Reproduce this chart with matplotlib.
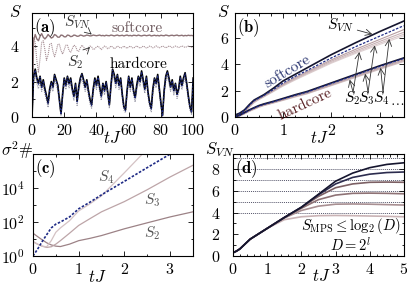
import numpy as np
import matplotlib
matplotlib.use('Agg')
import matplotlib.pyplot as plt
from matplotlib.ticker import MultipleLocator, FixedLocator, NullFormatter

plt.rcParams['font.family'] = 'serif'
plt.rcParams['font.serif'] = ['cmr10']
plt.rcParams['mathtext.fontset'] = 'cm'
plt.rcParams['axes.formatter.use_mathtext'] = True
plt.rcParams['font.size'] = 11.5
plt.rcParams['axes.linewidth'] = 0.8

# ---------------- datos (a) ----------------
t_a = np.arange(0, 101)
hard_svn = [0.0, 2.3, 2.7, 2.2, 1.9, 2.3, 1.7, 2.1, 1.6, 1.2,
            0.8, 1.6, 2.0, 1.7, 2.4, 2.1, 1.8, 1.0, 0.2, 1.3,
            2.2, 1.8, 2.3, 1.9, 2.2, 1.6, 1.2, 1.9, 0.9, 1.7,
            2.2, 2.45, 2.1, 1.7, 2.1, 1.5, 1.0, 0.7, 1.6, 2.2,
            1.8, 2.3, 1.7, 1.2, 1.9, 1.5, 2.0, 1.4, 0.7, 1.8,
            2.7, 2.4, 1.9, 2.4, 1.8, 2.2, 1.3, 0.6, 0.4, 1.5,
            2.3, 1.7, 2.2, 1.5, 1.1, 1.8, 2.3, 2.0, 2.6, 2.1,
            1.6, 2.3, 1.4, 0.8, 0.5, 1.6, 2.2, 1.9, 2.4, 1.6,
            0.8, 0.1, 1.5, 2.3, 2.6, 2.2, 1.7, 2.1, 1.5, 1.9,
            1.3, 1.6, 2.3, 1.8, 2.2, 2.5, 1.9, 1.2, 0.6, 0.3, 2.2]
hard_dash = [0.0, 2.25, 2.65, 2.15, 1.85, 2.25, 1.65, 2.05, 1.55, 1.15,
             0.75, 1.55, 1.95, 1.65, 2.35, 2.05, 1.75, 0.95, 0.15, 1.25,
             2.15, 1.75, 2.25, 1.85, 2.15, 1.55, 1.15, 1.85, 0.85, 1.65,
             2.15, 2.4, 2.05, 1.65, 2.05, 1.45, 0.95, 0.65, 1.55, 2.15,
             1.75, 2.25, 1.65, 1.15, 1.85, 1.45, 1.95, 1.35, 0.65, 1.75,
             2.65, 2.35, 1.85, 2.35, 1.75, 2.15, 1.25, 0.55, 0.35, 1.45,
             2.25, 1.65, 2.15, 1.45, 1.05, 1.75, 2.25, 1.95, 2.55, 2.05,
             1.55, 2.25, 1.35, 0.75, 0.45, 1.55, 2.15, 1.85, 2.35, 1.55,
             0.75, 0.05, 1.45, 2.25, 2.55, 2.15, 1.65, 2.05, 1.45, 1.85,
             1.25, 1.55, 2.25, 1.75, 2.15, 2.45, 1.85, 1.15, 0.55, 0.25, 2.15]
hard_s2 = [0.0, 2.0, 2.4, 1.9, 1.6, 2.0, 1.45, 1.8, 1.3, 0.95,
           0.55, 1.3, 1.7, 1.45, 2.1, 1.8, 1.5, 0.75, 0.1, 1.05,
           1.9, 1.55, 2.0, 1.65, 1.9, 1.35, 0.95, 1.6, 0.65, 1.45,
           1.9, 2.15, 1.8, 1.45, 1.8, 1.25, 0.75, 0.5, 1.35, 1.9,
           1.55, 2.0, 1.45, 0.95, 1.6, 1.25, 1.7, 1.15, 0.5, 1.5,
           2.4, 2.1, 1.65, 2.1, 1.55, 1.9, 1.05, 0.4, 0.25, 1.25,
           2.0, 1.45, 1.9, 1.25, 0.85, 1.5, 2.0, 1.75, 2.3, 1.8,
           1.35, 2.0, 1.15, 0.6, 0.3, 1.35, 1.9, 1.65, 2.1, 1.35,
           0.6, 0.05, 1.25, 2.0, 2.3, 1.9, 1.45, 1.8, 1.25, 1.65,
           1.05, 1.35, 2.0, 1.55, 1.9, 2.2, 1.65, 0.95, 0.4, 0.15, 1.9]
soft_svn = [0.0, 4.3, 4.65, 4.4, 4.3, 4.55, 4.7, 4.5, 4.4, 4.5,
            4.65, 4.55, 4.45, 4.5, 4.65, 4.6, 4.5, 4.5, 4.62, 4.6,
            4.52, 4.52, 4.62, 4.6, 4.53, 4.55, 4.62, 4.6, 4.55, 4.56,
            4.62, 4.6, 4.56, 4.58, 4.62, 4.6, 4.57, 4.58, 4.62, 4.6,
            4.58, 4.6, 4.62, 4.58, 4.6, 4.57, 4.61, 4.59, 4.58, 4.62,
            4.6, 4.57, 4.6, 4.62, 4.58, 4.59, 4.61, 4.57, 4.6, 4.62,
            4.58, 4.6, 4.57, 4.61, 4.6, 4.58, 4.62, 4.59, 4.57, 4.6,
            4.61, 4.58, 4.6, 4.62, 4.57, 4.59, 4.61, 4.58, 4.6, 4.57,
            4.61, 4.59, 4.58, 4.62, 4.6, 4.57, 4.6, 4.61, 4.58, 4.6,
            4.62, 4.58, 4.59, 4.61, 4.57, 4.6, 4.58, 4.61, 4.59, 4.6, 4.58]
soft_s2 = [0.0, 4.5, 4.2, 3.2, 2.5, 3.3, 4.2, 4.3, 3.8, 3.2,
           3.5, 4.1, 4.15, 3.7, 3.4, 3.7, 4.1, 4.1, 3.75, 3.55,
           3.8, 4.05, 4.05, 3.75, 3.65, 3.85, 4.05, 4.0, 3.75, 3.7,
           3.9, 4.05, 3.95, 3.8, 3.75, 3.9, 4.0, 3.95, 3.8, 3.85,
           3.95, 4.0, 3.9, 3.8, 3.9, 4.0, 3.95, 3.85, 3.9, 4.0,
           3.95, 3.85, 3.9, 4.0, 3.95, 3.88, 3.92, 4.0, 3.93, 3.87,
           3.95, 4.0, 3.92, 3.88, 3.95, 4.01, 3.94, 3.88, 3.93, 4.0,
           3.95, 3.89, 3.93, 4.0, 3.96, 3.9, 3.94, 4.01, 3.95, 3.9,
           3.95, 4.0, 3.96, 3.9, 3.94, 4.01, 3.97, 3.91, 3.95, 4.0,
           3.96, 3.92, 3.95, 4.01, 3.97, 3.92, 3.96, 4.0, 3.97, 3.93, 3.98]

# ---------------- datos (b) ----------------
t_b = [0, 0.1, 0.2, 0.3, 0.4, 0.5, 0.6, 0.8, 1.0, 1.25, 1.5, 2.0, 2.5, 3.0, 3.5]
soft_b_svn = [0.15, 0.3, 0.55, 0.95, 1.3, 1.5, 1.7, 2.2, 2.75, 3.25, 3.75, 4.75, 5.65, 6.5, 7.3]
soft_b_dash = [0.1, 0.25, 0.5, 0.9, 1.25, 1.45, 1.65, 2.1, 2.6, 3.1, 3.55, 4.5, 5.35, 6.15, 6.95]
soft_b_sn = [
    [0.1, 0.22, 0.45, 0.85, 1.2, 1.4, 1.6, 2.05, 2.5, 3.0, 3.45, 4.35, 5.15, 5.9, 6.65],
    [0.08, 0.2, 0.42, 0.8, 1.15, 1.37, 1.57, 2.0, 2.45, 2.92, 3.37, 4.25, 5.02, 5.75, 6.45],
    [0.07, 0.18, 0.4, 0.78, 1.12, 1.35, 1.55, 1.97, 2.4, 2.87, 3.3, 4.16, 4.92, 5.62, 6.3],
    [0.06, 0.17, 0.38, 0.76, 1.1, 1.33, 1.53, 1.94, 2.36, 2.82, 3.25, 4.1, 4.84, 5.52, 6.18],
]
hard_b_svn = [0.0, 0.15, 0.35, 0.55, 0.72, 0.88, 1.0, 1.2, 1.42, 1.7, 1.95, 2.6, 3.25, 3.9, 4.5]
hard_b_dash = [0.0, 0.12, 0.32, 0.52, 0.69, 0.85, 0.97, 1.17, 1.39, 1.66, 1.91, 2.56, 3.2, 3.85, 4.46]
hard_b_sn = [
    [0.0, 0.1, 0.28, 0.47, 0.64, 0.8, 0.92, 1.12, 1.33, 1.6, 1.84, 2.48, 3.12, 3.75, 4.36],
    [0.0, 0.09, 0.26, 0.45, 0.61, 0.77, 0.89, 1.09, 1.3, 1.56, 1.8, 2.43, 3.06, 3.68, 4.28],
    [0.0, 0.08, 0.25, 0.43, 0.59, 0.75, 0.87, 1.07, 1.27, 1.53, 1.77, 2.39, 3.01, 3.63, 4.22],
]
colores_sn = ['#b89ea2', '#c8b2b5', '#d6c4c6', '#e0d2d3']

# ---------------- datos (c) ----------------
t_c = [0, 0.1, 0.2, 0.3, 0.4, 0.5, 0.6, 0.8, 1.0, 1.25, 1.5, 2.0, 2.5, 3.0, 3.5]
sigma_dash = [1, 2.5, 7, 18, 45, 75, 100, 200, 600, 1500, 4000, 2.5e4, 1.6e5, 1e6]
sigma_s4 = [7, 5, 3.8, 3.5, 8, 25, 45, 120, 450, 1200, 3500, 8e4, 2e6]
sigma_s3 = [7, 5, 3.8, 3.2, 3.5, 5, 8, 22, 63, 160, 400, 1600, 8e3, 4.5e4, 2.2e5]
sigma_s2 = [22, 14, 9, 6, 4.5, 3.8, 3.6, 5, 8, 11, 16, 40, 90, 200, 400]

# ---------------- datos (d) ----------------
t_d = [0, 0.1, 0.2, 0.3, 0.5, 0.75, 1.0, 1.5, 2.0, 2.5, 3.0, 3.5, 4.0, 4.5, 5.0]
chi_exp = [4, 5, 6, 7, 8, 9]
svn_d = {
    4: [0.3, 0.45, 0.65, 0.95, 1.55, 2.05, 2.55, 3.35, 3.62, 3.72, 3.74, 3.72, 3.69, 3.66, 3.62],
    5: [0.3, 0.45, 0.65, 0.95, 1.55, 2.05, 2.55, 3.5, 4.2, 4.6, 4.78, 4.8, 4.78, 4.74, 4.7],
    6: [0.3, 0.45, 0.65, 0.95, 1.55, 2.05, 2.55, 3.55, 4.4, 5.2, 5.62, 5.78, 5.8, 5.78, 5.74],
    7: [0.3, 0.45, 0.65, 0.95, 1.55, 2.05, 2.55, 3.55, 4.48, 5.5, 6.3, 6.65, 6.8, 6.82, 6.8],
    8: [0.3, 0.45, 0.65, 0.95, 1.55, 2.05, 2.55, 3.55, 4.5, 5.65, 6.65, 7.25, 7.55, 7.7, 7.75],
    9: [0.3, 0.45, 0.65, 0.95, 1.55, 2.05, 2.55, 3.55, 4.5, 5.7, 6.9, 7.65, 8.15, 8.45, 8.6],
}
colores_d = {4: '#c9b3b5', 5: '#a88f92', 6: '#8e7275', 7: '#7c6064', 8: '#2c2c4e', 9: '#15152e'}

NAVY = '#15152e'
AZUL = '#1e2a85'

fig = plt.figure(figsize=(4.07, 2.87), dpi=100)
ax_a = fig.add_axes([0.0786, 0.592, 0.396, 0.362])
ax_b = fig.add_axes([0.577, 0.592, 0.415, 0.362])
ax_c = fig.add_axes([0.081, 0.108, 0.393, 0.355])
ax_d = fig.add_axes([0.5725, 0.108, 0.42, 0.355])


def estilo(ax, pad):
    ax.tick_params(which='both', direction='in', top=True, right=True, width=0.6)
    ax.tick_params(which='major', length=3.5)
    ax.tick_params(which='minor', length=1.8)
    ax.tick_params(axis='y', pad=pad)
    ax.tick_params(axis='x', pad=4)


# ---- (a) ----
ax_a.plot(t_a, soft_s2, color='#a89096', lw=0.8, ls=(0, (1, 0.8)))
ax_a.plot(t_a, soft_svn, color='#8c7276', lw=1.0)
ax_a.plot(t_a, hard_s2, color='#9a9aa8', lw=0.8, ls=(0, (1, 0.8)))
ax_a.plot(t_a, hard_svn, color='black', lw=1.2)
ax_a.plot(t_a, hard_dash, color=AZUL, lw=0.7, ls=(0, (2, 1.5)))
ax_a.set_xlim(0, 100)
ax_a.set_ylim(0, 5.85)
ax_a.set_xticks([0, 20, 40, 60, 80, 100])
ax_a.set_yticks([0, 2, 4])
ax_a.xaxis.set_minor_locator(MultipleLocator(10))
ax_a.yaxis.set_minor_locator(MultipleLocator(1))
estilo(ax_a, 9)
ax_a.text(0.01, 0.97, r'$(\mathbf{a})$', transform=ax_a.transAxes, ha='left', va='top', fontsize=12)
ax_a.text(-0.1, 1.01, '$S$', transform=ax_a.transAxes, ha='center', va='center', fontsize=12)
ax_a.text(0.5, -0.2, '$tJ$', transform=ax_a.transAxes, ha='center', va='center', fontsize=12)
ax_a.text(65, 5.0, 'softcore', color='#6e5a5e', ha='center', va='center', fontsize=11)
ax_a.text(66, 3.0, 'hardcore', color='black', ha='center', va='center', fontsize=11)
ax_a.annotate('$S_{VN}$', xy=(37, 4.65), xytext=(28, 5.35), ha='center', va='center',
              fontsize=11, color='#333333',
              arrowprops=dict(arrowstyle='->', lw=0.6, color='#333333', shrinkA=2, shrinkB=0))
ax_a.annotate('$S_2$', xy=(36, 3.95), xytext=(27, 3.1), ha='center', va='center',
              fontsize=11, color='#333333',
              arrowprops=dict(arrowstyle='->', lw=0.6, color='#333333', shrinkA=2, shrinkB=0))

# ---- (b) ----
for serie, col in zip(soft_b_sn[::-1], colores_sn[::-1]):
    ax_b.plot(t_b, serie, color=col, lw=0.8)
for serie, col in zip(hard_b_sn[::-1], colores_sn[:3][::-1]):
    ax_b.plot(t_b, serie, color=col, lw=0.8)
ax_b.plot(t_b, soft_b_svn, color=NAVY, lw=1.2)
ax_b.plot(t_b, soft_b_dash, color=AZUL, lw=0.9, ls=(0, (2, 1.2)))
ax_b.plot(t_b, hard_b_svn, color=NAVY, lw=1.2)
ax_b.plot(t_b, hard_b_dash, color=AZUL, lw=0.9, ls=(0, (2, 1.2)))
ax_b.set_xlim(0, 3.5)
ax_b.set_ylim(0, 7.9)
ax_b.set_xticks([0, 1, 2, 3])
ax_b.set_yticks([0, 2, 4, 6])
ax_b.xaxis.set_minor_locator(MultipleLocator(0.25))
estilo(ax_b, 4)
ax_b.text(0.01, 0.97, r'$(\mathbf{b})$', transform=ax_b.transAxes, ha='left', va='top', fontsize=12)
ax_b.text(-0.07, 1.01, '$S$', transform=ax_b.transAxes, ha='center', va='center', fontsize=12)
ax_b.text(0.5, -0.2, '$tJ$', transform=ax_b.transAxes, ha='center', va='center', fontsize=12)
ax_b.text(1.1, 3.5, 'softcore', color='#2a3570', rotation=31, ha='center', va='center', fontsize=11)
ax_b.text(1.45, 0.95, 'hardcore', color='#5a2226', rotation=25, ha='center', va='center', fontsize=11)
ax_b.annotate('$S_{VN}$', xy=(2.85, 6.3), xytext=(2.2, 6.95), ha='center', va='center', fontsize=11,
              arrowprops=dict(arrowstyle='->', lw=0.6, color='#333333', shrinkA=0, shrinkB=0))
etiquetas_b = [('$S_2$', 2.42, (2.58, 4.95), (2.38, 2.85)),
               ('$S_3$', 2.73, (2.9, 5.45), (2.7, 3.3)),
               ('$S_4$', 3.04, (3.2, 5.95), (3.02, 3.75))]
for txt, xt, p_soft, p_hard in etiquetas_b:
    ax_b.text(xt, 1.4, txt, ha='center', va='center', fontsize=11)
    for p in (p_soft, p_hard):
        ax_b.annotate('', xy=p, xytext=(xt + 0.03, 1.9),
                      arrowprops=dict(arrowstyle='->', lw=0.6, color='#333333', shrinkA=0, shrinkB=0))
ax_b.text(3.36, 1.15, r'$\ldots$', ha='center', va='center', fontsize=10)

# ---- (c) ----
ax_c.plot(t_c[:len(sigma_s2)], sigma_s2, color='#9c8286', lw=0.9)
ax_c.plot(t_c[:len(sigma_s3)], sigma_s3, color='#bda5a8', lw=0.9)
ax_c.plot(t_c[:len(sigma_s4)], sigma_s4, color='#d4c2c4', lw=0.9)
ax_c.plot(t_c[:len(sigma_dash)], sigma_dash, color=AZUL, lw=1.2, ls=(0, (1.5, 1)))
ax_c.set_yscale('log')
ax_c.set_xlim(0, 3.5)
ax_c.set_ylim(1, 1e6)
ax_c.set_xticks([0, 1, 2, 3])
ax_c.yaxis.set_major_locator(FixedLocator([1, 1e2, 1e4, 1e6]))
ax_c.yaxis.set_minor_locator(FixedLocator([10, 1e3, 1e5]))
ax_c.yaxis.set_minor_formatter(NullFormatter())
ax_c.set_yticklabels(['$10^0$', '$10^2$', '$10^4$', ''])
ax_c.xaxis.set_minor_locator(MultipleLocator(0.5))
estilo(ax_c, 6)
ax_c.text(0.01, 0.97, r'$(\mathbf{c})$', transform=ax_c.transAxes, ha='left', va='top', fontsize=12)
ax_c.text(-0.1, 1.04, r'$\sigma^2\#$', transform=ax_c.transAxes, ha='center', va='center', fontsize=12)
ax_c.text(0.4, -0.21, '$tJ$', transform=ax_c.transAxes, ha='center', va='center', fontsize=12)
ax_c.text(1.6, 4.6e4, '$S_4$', color='#555555', ha='center', va='center', fontsize=11)
ax_c.text(2.6, 2000, '$S_3$', color='#555555', ha='center', va='center', fontsize=11)
ax_c.text(2.6, 22, '$S_2$', color='#555555', ha='center', va='center', fontsize=11)

# ---- (d) ----
for l in chi_exp:
    ax_d.axhline(l, color='#55556a', lw=0.7, ls=(0, (1, 1)), zorder=1)
for l in chi_exp:
    ax_d.plot(t_d, svn_d[l], color=colores_d[l], lw=1.2, zorder=2)
ax_d.set_xlim(0, 5)
ax_d.set_ylim(0, 9.4)
ax_d.set_xticks([0, 1, 2, 3, 4, 5])
ax_d.set_yticks([0, 2, 4, 6, 8])
ax_d.xaxis.set_minor_locator(MultipleLocator(0.2))
ax_d.yaxis.set_minor_locator(MultipleLocator(1))
estilo(ax_d, 9)
ax_d.text(0.01, 0.97, r'$(\mathbf{d})$', transform=ax_d.transAxes, ha='left', va='top', fontsize=12)
ax_d.text(-0.076, 1.04, '$S_{VN}$', transform=ax_d.transAxes, ha='center', va='center', fontsize=12)
ax_d.text(0.515, -0.2, '$tJ$', transform=ax_d.transAxes, ha='center', va='center', fontsize=12)
ax_d.text(3.45, 2.8, r'$S_{\rm MPS} \leq \log_2(D)$', ha='center', va='center', fontsize=10.5)
ax_d.text(3.43, 1.05, r'$D = 2^l$', ha='center', va='center', fontsize=10.5)

fig.savefig('out.png', dpi=100)
